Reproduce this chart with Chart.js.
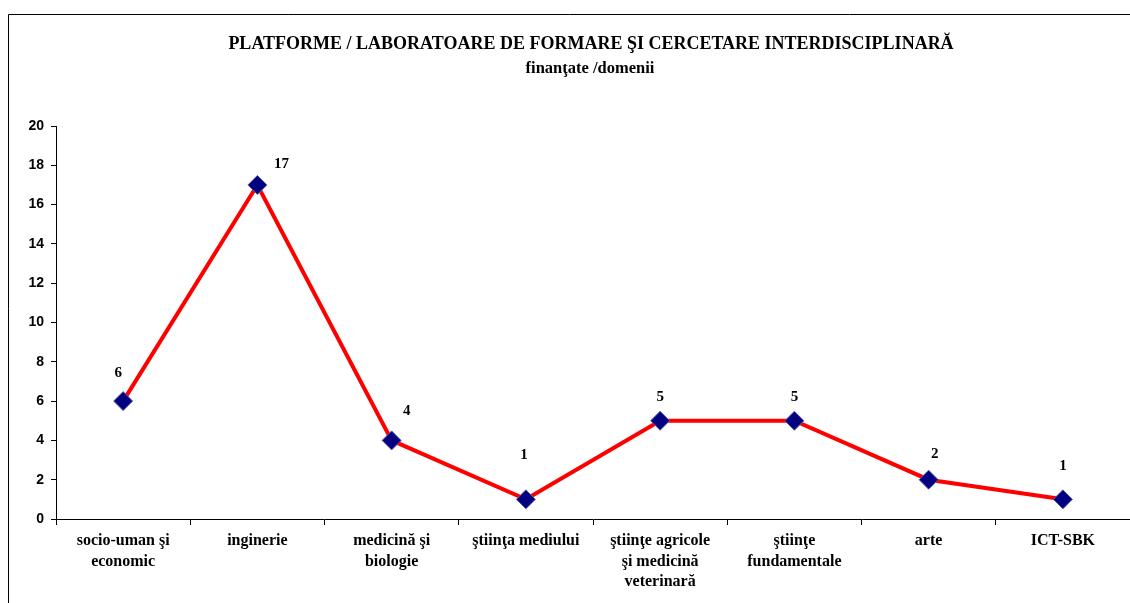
<!DOCTYPE html>
<html>
<head>
<meta charset="utf-8">
<title>Platforme / laboratoare</title>
<script src="https://cdn.jsdelivr.net/npm/chart.js@4/dist/chart.umd.min.js"></script>
<style>
  html, body { margin: 0; padding: 0; background: #fff; }
  #wrap { width: 1130px; height: 603px; }
</style>
</head>
<body>
<div id="wrap"><canvas id="my-chart" width="1130" height="603"></canvas></div>
<script>
'use strict';
// data
let domains = [
  ['socio-uman şi', 'economic'],
  'inginerie',
  ['medicină şi', 'biologie'],
  'ştiinţa mediului',
  ['ştiinţe agricole', 'şi medicină', 'veterinară'],
  ['ştiinţe', 'fundamentale'],
  'arte',
  'ICT-SBK'
]
let platforms = [6, 17, 4, 1, 5, 5, 2, 1]
let yTicks = [0, 2, 4, 6, 8, 10, 12, 14, 16, 18, 20]

let titleLines = [
  'PLATFORME / LABORATOARE DE FORMARE ŞI CERCETARE INTERDISCIPLINARĂ',
  'finanţate /domenii'
]

// where each value label sits, relative to its point (px)
let labelShift = [[-5, -28], [24, -21], [15, -29], [-2, -44], [0, -24], [0, -24], [6, -26], [0, -33]]

const serif = '"Liberation Serif", "Times New Roman", serif'
const sans = '"Liberation Sans", Arial, sans-serif'

// frame, title and value labels
const decorPlugin = {
  id: 'decor',
  beforeDraw(chart) {
    const ctx = chart.ctx
    ctx.save()
    ctx.strokeStyle = '#000'
    ctx.lineWidth = 1
    ctx.beginPath()
    ctx.moveTo(8.5, 603)
    ctx.lineTo(8.5, 14.5)
    ctx.lineTo(1130, 14.5)
    ctx.stroke()

    ctx.fillStyle = '#000'
    ctx.textAlign = 'center'
    ctx.textBaseline = 'middle'
    ctx.font = 'bold 18px ' + serif
    ctx.fillText(titleLines[0], 591, 44)
    ctx.font = 'bold 16.5px ' + serif
    ctx.fillText(titleLines[1], 590, 69)
    ctx.restore()
  },
  afterDatasetsDraw(chart) {
    const ctx = chart.ctx
    const meta = chart.getDatasetMeta(0)
    ctx.save()
    ctx.fillStyle = '#000'
    ctx.textAlign = 'center'
    ctx.textBaseline = 'middle'
    ctx.font = 'bold 15px ' + serif
    meta.data.forEach((pt, i) => {
      let s = labelShift[i]
      ctx.fillText(String(platforms[i]), pt.x + s[0], pt.y + s[1])
    })
    ctx.restore()
  }
}

const ctx = document.getElementById('my-chart').getContext('2d')
const myChart = new Chart(ctx, {
  type: 'line',
  data: {
    labels: domains,
    datasets: [{
      data: platforms,
      borderColor: '#ff0000',
      borderWidth: 4,
      tension: 0,
      pointStyle: 'rectRot',
      pointRadius: 9.5,
      pointHoverRadius: 9.5,
      pointBackgroundColor: '#000080',
      pointBorderColor: '#5a5aa8',
      pointBorderWidth: 1
    }]
  },
  options: {
    responsive: false,
    animation: false,
    events: [],
    layout: { autoPadding: false, padding: { left: 8, top: 126, right: -1, bottom: 0 } },
    plugins: {
      legend: { display: false },
      tooltip: { enabled: false }
    },
    scales: {
      x: {
        offset: true,
        afterFit(scale) {
          scale.height = 84
          scale.paddingLeft = 0
          scale.paddingRight = 0
        },
        border: { display: true, color: '#000', width: 1 },
        grid: { display: true, drawOnChartArea: false, drawTicks: true, tickLength: 6, color: '#000', offset: true },
        ticks: {
          color: '#000',
          font: { family: serif, size: 16, weight: 'bold', lineHeight: 1.28 },
          padding: 6,
          maxRotation: 0,
          autoSkip: false
        }
      },
      y: {
        min: 0,
        max: 20,
        afterFit(scale) {
          scale.width = 48
          scale.paddingTop = 0
          scale.paddingBottom = 0
        },
        afterBuildTicks(scale) { scale.ticks = yTicks.map(v => ({ value: v })) },
        border: { display: true, color: '#000', width: 1 },
        grid: { display: true, drawOnChartArea: false, drawTicks: true, tickLength: 5, color: '#000' },
        ticks: {
          color: '#000',
          font: { family: sans, size: 14, weight: 'bold' },
          padding: 7
        }
      }
    }
  },
  plugins: [decorPlugin]
})
</script>
</body>
</html>
